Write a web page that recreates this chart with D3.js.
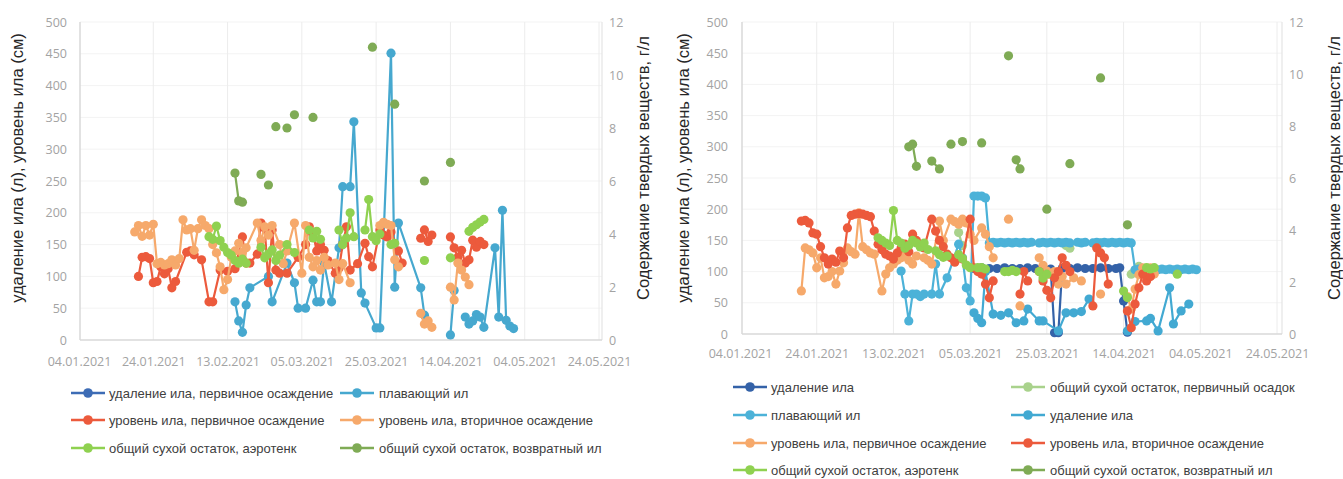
<!DOCTYPE html>
<html>
<head>
<meta charset="utf-8">
<script src="https://cdnjs.cloudflare.com/ajax/libs/d3/7.8.5/d3.min.js"></script>
<style>
  body { margin: 0; background: #fff; }
  svg { display: block; }
</style>
</head>
<body>
<svg id="chart" width="1343" height="479"></svg>
<script>
// ---------- axis ticks ----------
const xTickDates = ["04.01", "24.01", "13.02", "05.03", "25.03", "14.04", "04.05", "24.05"];
const yTicksLeft = [0, 50, 100, 150, 200, 250, 300, 350, 400, 450, 500];
const yTicksRight = [0, 2, 4, 6, 8, 10, 12];
const titleLeft = "удаление ила (л), уровень ила (см)";
const titleRight = "Содержание твердых веществ, г/л";

// ---------- left chart (values: [date, value], null = break in line) ----------
// л / см on left axis, г/л on right axis
const L_removalPrimary = [];
const L_floating = [["15.02",60],["16.02",30],["17.02",12],["18.02",55],["19.02",82],["24.02",100],["25.02",60],["01.03",121],["03.03",90],["04.03",50],["06.03",50],["08.03",94],["09.03",60],["10.03",60],["11.03",121],["13.03",60],["15.03",145],["16.03",241],["18.03",241],["19.03",343],["21.03",74],["22.03",58],["25.03",19],["26.03",19],["29.03",451],["30.03",83],["31.03",184],["06.04",82],["07.04",39],null,["14.04",8],["15.04",78],null,["18.04",36],["19.04",25],["20.04",30],["21.04",40],["22.04",36],["23.04",20],["26.04",145],["27.04",36],["28.04",204],["29.04",31],["30.04",22],["01.05",18]];
const L_levelPrimary = [["20.01",100],["21.01",130],["22.01",131],["23.01",128],["24.01",90],["25.01",92],["26.01",115],["27.01",104],["28.01",112],["29.01",82],["30.01",92],["02.02",138],["03.02",140],["04.02",134],["06.02",126],["08.02",60],["09.02",60],["11.02",110],["13.02",108],["15.02",112],["17.02",162],["18.02",121],["19.02",121],["21.02",135],["22.02",184],["23.02",176],["24.02",90],["25.02",173],["26.02",110],["27.02",105],["01.03",105],["04.03",130],["06.03",150],["07.03",178],["08.03",168],["09.03",140],["10.03",150],["11.03",141],["12.03",125],["14.03",105],["15.03",113],["16.03",150],["17.03",178],["18.03",110],["20.03",120],["22.03",152],["23.03",131],["24.03",115],["26.03",173],["27.03",165],["28.03",162],["29.03",170],["31.03",140],["01.04",121],null,["06.04",160],["07.04",173],["08.04",155],["09.04",165],null,["14.04",162],["15.04",145],["16.04",130],["17.04",141],["18.04",121],["19.04",126],["20.04",157],["21.04",146],["22.04",155],["23.04",150]];
const L_levelSecondary = [["19.01",170],["20.01",180],["21.01",163],["22.01",180],["23.01",165],["24.01",182],["25.01",120],["26.01",122],["27.01",118],["28.01",120],["29.01",126],["30.01",118],["31.01",128],["01.02",189],["02.02",173],["03.02",175],["04.02",141],["05.02",175],["06.02",189],["07.02",180],["08.02",175],["09.02",150],["10.02",137],["11.02",115],["12.02",79],["13.02",95],["14.02",130],["15.02",140],["16.02",152],["17.02",137],["18.02",145],["21.02",184],["22.02",157],["23.02",178],["24.02",165],["25.02",180],["27.02",150],["28.02",120],["01.03",140],["03.03",184],["05.03",105],["06.03",180],["07.03",130],["08.03",115],["09.03",125],["10.03",110],["11.03",130],["12.03",118],["14.03",121],["15.03",95],["16.03",120],["18.03",90],null,["26.03",180],["27.03",185],["28.03",182],["29.03",180],["30.03",126],["31.03",115],null,["06.04",42],["07.04",25],["08.04",30],["09.04",20],null,["14.04",83],["15.04",63],["16.04",121],["17.04",110],["18.04",99],["19.04",87]];
const L_solidsAeration = [["08.02",3.9],["09.02",3.8],["10.02",4.3],["11.02",3.75],["12.02",3.5],["13.02",3.3],["14.02",3.2],["15.02",3.0],["16.02",2.9],["17.02",3.05],["18.02",2.9],null,["22.02",3.5],["23.02",3.1],["24.02",3.25],["25.02",3.4],["26.02",3.0],["27.02",3.2],["01.03",3.6],["03.03",3.3],null,["07.03",4.15],["08.03",3.85],["09.03",4.1],["10.03",3.8],null,["15.03",4.15],["16.03",3.6],["17.03",3.85],["18.03",4.8],["19.03",3.9],null,["22.03",4.15],["23.03",5.3],["24.03",3.9],["25.03",3.75],["26.03",4.0],null,["29.03",3.6],["30.03",3.65],null,["07.04",3.0],null,["14.04",3.1],null,["19.04",4.1],["20.04",4.25],["21.04",4.35],["22.04",4.45],["23.04",4.55]];
const L_solidsReturn = [["15.02",6.3],["16.02",5.25],["17.02",5.2],null,["22.02",6.25],null,["24.02",5.85],null,["26.02",8.05],null,["01.03",8.0],null,["03.03",8.5],null,["08.03",8.4],null,["24.03",11.05],null,["30.03",8.9],null,["07.04",6.0],null,["14.04",6.7]];

// ---------- right chart ----------
const R_removalDark = [["06.03",105],["07.03",104],["08.03",106],["10.03",105],["12.03",105],["14.03",106],["16.03",105],["18.03",105],["20.03",106],["22.03",105],["24.03",105],["26.03",104],["27.03",2],["28.03",2],["29.03",105],["31.03",105],["02.04",106],["04.04",105],["06.04",105],["08.04",106],["10.04",105],["12.04",105],["13.04",106],["14.04",53],["15.04",3]];
const R_solidsPrimary = [["02.03",3.9],["03.03",3.4],null,["30.03",3.4],["31.03",3.3],null,["07.04",3.4],["08.04",3.5],null,["16.04",2.3],["17.04",2.45],["18.04",2.6],["19.04",2.5]];
const R_floating = [["15.02",101],["16.02",64],["17.02",21],["18.02",64],["19.02",64],["20.02",60],["21.02",64],["23.02",64],["24.02",112],["25.02",64],["27.02",90],["02.03",144],["03.03",122],["04.03",74],["05.03",53],["06.03",221],["07.03",221],["08.03",221],["09.03",218],["10.03",146],["11.03",147],["12.03",146],["13.03",147],["14.03",146],["15.03",147],["16.03",146],["17.03",147],["18.03",146],["19.03",147],["20.03",146],["21.03",147],null,["23.03",146],["24.03",147],["25.03",146],["26.03",147],["27.03",146],["28.03",147],["29.03",146],["30.03",147],["31.03",146],null,["02.04",147],["03.04",146],["04.04",147],null,["06.04",146],["07.04",147],["08.04",146],["09.04",147],["10.04",146],["11.04",147],["12.04",146],["13.04",147],["14.04",146],["15.04",147],["16.04",146],["17.04",103],["18.04",104],["19.04",103],["20.04",104],["21.04",103],["22.04",104],["23.04",103],["24.04",104],["25.04",103],["26.04",104],["27.04",103],["28.04",104],["29.04",103],["30.04",104],["01.05",103],["02.05",104],["03.05",103]];
const R_removalLight = [["06.03",34],["07.03",25],["08.03",18],["09.03",100],["11.03",32],["13.03",30],["15.03",34],["17.03",18],["19.03",21],["20.03",40],["23.03",21],["24.03",21],["28.03",5],["30.03",34],["01.04",34],["03.04",36],["05.04",56],null,["15.04",5],["17.04",20],["20.04",21],["21.04",25],["23.04",5],["26.04",74],["27.04",16],["29.04",37],["01.05",48]];
const R_levelPrimary = [["20.01",69],["21.01",138],["22.01",135],["23.01",130],["24.01",106],["25.01",122],["26.01",90],["27.01",92],["28.01",100],["29.01",80],["30.01",101],["31.01",114],["01.02",138],["02.02",132],["03.02",128],["04.02",194],["05.02",140],["06.02",135],["07.02",130],["08.02",128],["10.02",69],["11.02",96],["12.02",106],["13.02",112],["14.02",118],["15.02",122],["16.02",128],["17.02",118],["18.02",112],["19.02",125],["21.02",122],["22.02",118],["23.02",112],["25.02",181],["26.02",150],["28.02",184],["01.03",180],["02.03",176],["03.03",184],["04.03",178],["05.03",160],["06.03",150],["08.03",170],["09.03",160],["10.03",140],["11.03",122],null,["15.03",184],null,["18.03",45],null,["23.03",122],["24.03",110],["25.03",101],["26.03",95],["27.03",100],["28.03",80],["29.03",92],["30.03",80],["01.04",90],["03.04",85],null,["08.04",64],null,["15.04",60],["16.04",40],["17.04",72],["18.04",95],["19.04",106],["20.04",98],["21.04",106],["22.04",96]];
const R_levelSecondary = [["20.01",181],["21.01",182],["22.01",178],["23.01",162],["24.01",160],["25.01",140],["26.01",122],["27.01",112],["28.01",120],["29.01",115],["30.01",133],["31.01",122],["01.02",170],["02.02",190],["03.02",192],["04.02",193],["05.02",192],["06.02",190],["07.02",188],["08.02",165],["09.02",144],["10.02",135],["11.02",128],["12.02",125],["13.02",120],["14.02",130],["15.02",138],["16.02",144],["17.02",132],["18.02",160],["19.02",150],["21.02",138],["23.02",184],["24.02",165],["25.02",150],["26.02",140],["27.02",128],["28.02",122],["01.03",115],["03.03",120],["05.03",184],["06.03",106],["07.03",100],["08.03",96],["09.03",80],["10.03",58],["11.03",85],null,["18.03",64],["19.03",100],["20.03",85],null,["23.03",100],["24.03",85],["25.03",70],["26.03",58],["27.03",90],["28.03",100],["29.03",122],["30.03",110],["31.03",100],null,["06.04",45],["07.04",138],["08.04",130],["09.04",122],["10.04",80],null,["15.04",37],["16.04",10],["17.04",48],["18.04",74],["19.04",96],["20.04",85],["21.04",92]];
const R_solidsAeration = [["09.02",3.7],["10.02",3.6],["11.02",3.5],["12.02",3.4],["13.02",4.75],["14.02",3.6],["15.02",3.5],["16.02",3.3],["17.02",3.4],["18.02",3.6],["19.02",3.5],["20.02",3.35],["21.02",3.5],["22.02",3.25],["24.02",3.2],["25.02",3.05],["26.02",2.95],["27.02",3.0],null,["02.03",3.05],["03.03",2.9],["04.03",2.65],["05.03",2.55],["07.03",2.55],["08.03",2.55],["09.03",2.5],null,["14.03",2.4],["15.03",2.4],["16.03",2.45],["17.03",2.4],null,["23.03",2.4],["24.03",2.15],["25.03",2.3],null,["14.04",1.65],["15.04",1.4],null,["20.04",2.55],["21.04",2.5],["22.04",2.55],null,["28.04",2.3]];
const R_solidsReturn = [["17.02",7.2],["18.02",7.3],["19.02",6.45],null,["23.02",6.65],["25.02",6.35],null,["28.02",7.3],null,["03.03",7.4],null,["08.03",7.35],null,["15.03",10.7],null,["17.03",6.7],["18.03",6.35],null,["25.03",4.8],null,["31.03",6.55],null,["08.04",9.85],null,["15.04",4.2]];

// ---------- layout ----------
const panels = [
  {
    x0: 79, x1: 599, yB: 340, yT: 22, axisL: 80, axisR: 602,
    yLabX: 67, yRLabX: 609, xLabY: 362,
    titleLX: 17, titleRX: 643, titleY: 168,
    legX: [88, 357], legY: [393, 420, 448],
    series: [
      {name: "удаление ила, первичное осаждение", color: "#3d6cb5", axis: "L", data: L_removalPrimary},
      {name: "плавающий ил", color: "#46a8cf", axis: "L", data: L_floating},
      {name: "уровень ила, первичное осаждение", color: "#ec5a3c", axis: "L", data: L_levelPrimary},
      {name: "уровень ила, вторичное осаждение", color: "#f6a96b", axis: "L", data: L_levelSecondary},
      {name: "общий сухой остаток, аэротенк", color: "#8fd150", axis: "R", data: L_solidsAeration},
      {name: "общий сухой остаток, возвратный ил", color: "#7fab55", axis: "R", data: L_solidsReturn}
    ]
  },
  {
    x0: 740, x1: 1277, yB: 334, yT: 22, axisL: 742, axisR: 1282,
    yLabX: 728, yRLabX: 1289, xLabY: 354,
    titleLX: 683, titleRX: 1334, titleY: 168,
    legX: [750, 1028], legY: [387, 415, 443, 470],
    series: [
      {name: "удаление ила", color: "#3462a8", axis: "L", data: R_removalDark},
      {name: "общий сухой остаток, первичный осадок", color: "#a9d28c", axis: "R", data: R_solidsPrimary},
      {name: "плавающий ил", color: "#4cb2d8", axis: "L", data: R_floating},
      {name: "удаление ила", color: "#42a9d2", axis: "L", data: R_removalLight},
      {name: "уровень ила, первичное осаждение", color: "#f6a96b", axis: "L", data: R_levelPrimary},
      {name: "уровень ила, вторичное осаждение", color: "#ec5a3c", axis: "L", data: R_levelSecondary},
      {name: "общий сухой остаток, аэротенк", color: "#8fd150", axis: "R", data: R_solidsAeration},
      {name: "общий сухой остаток, возвратный ил", color: "#7fab55", axis: "R", data: R_solidsReturn}
    ]
  }
];

const svg = d3.select("#chart");
const parseDay = s => d3.timeParse("%d.%m.%Y")(s + ".2021");
const fmtDay = d3.timeFormat("%d.%m.%Y");
const TICK_FONT = "'Open Sans', sans-serif";
const TEXT_FONT = "'Liberation Sans', Arial, sans-serif";

panels.forEach(p => {
  const g = svg.append("g");
  const x = d3.scaleTime().domain([parseDay("04.01"), parseDay("24.05")]).range([p.x0, p.x1]);
  const yL = d3.scaleLinear().domain([0, 500]).range([p.yB, p.yT]);
  const yR = d3.scaleLinear().domain([0, 12]).range([p.yB, p.yT]);

  // faint grid
  g.append("g").selectAll("line").data(yTicksLeft.slice(1)).join("line")
    .attr("x1", p.axisL).attr("x2", p.axisR)
    .attr("y1", d => yL(d)).attr("y2", d => yL(d))
    .attr("stroke", "#f3f3f3").attr("stroke-width", 1)
  g.append("g").selectAll("line").data(xTickDates.slice(1)).join("line")
    .attr("x1", d => x(parseDay(d))).attr("x2", d => x(parseDay(d)))
    .attr("y1", p.yT).attr("y2", p.yB)
    .attr("stroke", "#ececec").attr("stroke-width", 1)

  // axis lines
  g.append("line").attr("x1", p.axisL).attr("x2", p.axisL).attr("y1", p.yT).attr("y2", p.yB)
    .attr("stroke", "#d9d9d9").attr("stroke-width", 1.5)
  g.append("line").attr("x1", p.axisR).attr("x2", p.axisR).attr("y1", p.yT).attr("y2", p.yB)
    .attr("stroke", "#e4e4e4").attr("stroke-width", 1.2)
  g.append("line").attr("x1", p.axisL).attr("x2", p.axisR).attr("y1", p.yB).attr("y2", p.yB)
    .attr("stroke", "#d9d9d9").attr("stroke-width", 1.5)

  // tick labels through d3 axes
  const xAxis = d3.axisBottom(x).tickValues(xTickDates.map(parseDay)).tickFormat(fmtDay).tickSize(0)
  const gx = g.append("g").attr("transform", `translate(0,${p.xLabY})`).call(xAxis)
  const gyl = g.append("g").attr("transform", `translate(${p.yLabX},0)`)
    .call(d3.axisLeft(yL).tickValues(yTicksLeft).tickSize(0).tickPadding(0))
  const gyr = g.append("g").attr("transform", `translate(${p.yRLabX},0)`)
    .call(d3.axisRight(yR).tickValues(yTicksRight).tickSize(0).tickPadding(0))
  ;[gx, gyl, gyr].forEach(a => {
    a.select(".domain").remove()
    a.selectAll("text").attr("fill", "#a3a3a3").style("font-family", TICK_FONT).style("font-size", "12.5px")
  })
  gx.selectAll("text").attr("dy", "0.32em").attr("y", 0)

  // axis titles
  g.append("text")
    .attr("transform", `translate(${p.titleLX},${p.titleY}) rotate(-90)`)
    .attr("text-anchor", "middle").attr("dominant-baseline", "central")
    .style("font-family", TEXT_FONT).style("font-size", "16.5px").attr("fill", "#262626")
    .text(titleLeft)
  g.append("text")
    .attr("transform", `translate(${p.titleRX},${p.titleY}) rotate(-90)`)
    .attr("text-anchor", "middle").attr("dominant-baseline", "central")
    .style("font-family", TEXT_FONT).style("font-size", "16.5px").attr("fill", "#262626")
    .text(titleRight)

  // series
  p.series.forEach(s => {
    const y = s.axis === "L" ? yL : yR
    const pts = s.data.map(d => d ? {date: parseDay(d[0]), v: d[1]} : null)
    const line = d3.line().defined(d => d !== null).x(d => x(d.date)).y(d => y(d.v))
    g.append("path").datum(pts)
      .attr("fill", "none").attr("stroke", s.color).attr("stroke-width", 2.2)
      .attr("stroke-linejoin", "round").attr("d", line)
    g.append("g").selectAll("circle").data(pts.filter(d => d !== null)).join("circle")
      .attr("cx", d => x(d.date)).attr("cy", d => y(d.v)).attr("r", 4.6)
      .attr("fill", s.color)
  })

  // legend, row by row, two columns
  p.series.forEach((s, i) => {
    const lx = p.legX[i % 2], ly = p.legY[Math.floor(i / 2)]
    const lg = g.append("g").attr("transform", `translate(${lx},${ly})`)
    lg.append("line").attr("x1", -17).attr("x2", 17).attr("stroke", s.color).attr("stroke-width", 2.5)
    lg.append("circle").attr("r", 4.8).attr("fill", s.color)
    lg.append("text").attr("x", i % 2 === 0 ? 21 : 22).attr("dominant-baseline", "central")
      .style("font-family", TEXT_FONT).style("font-size", "13px").attr("fill", "#404040")
      .text(s.name)
  })
})
</script>
</body>
</html>
